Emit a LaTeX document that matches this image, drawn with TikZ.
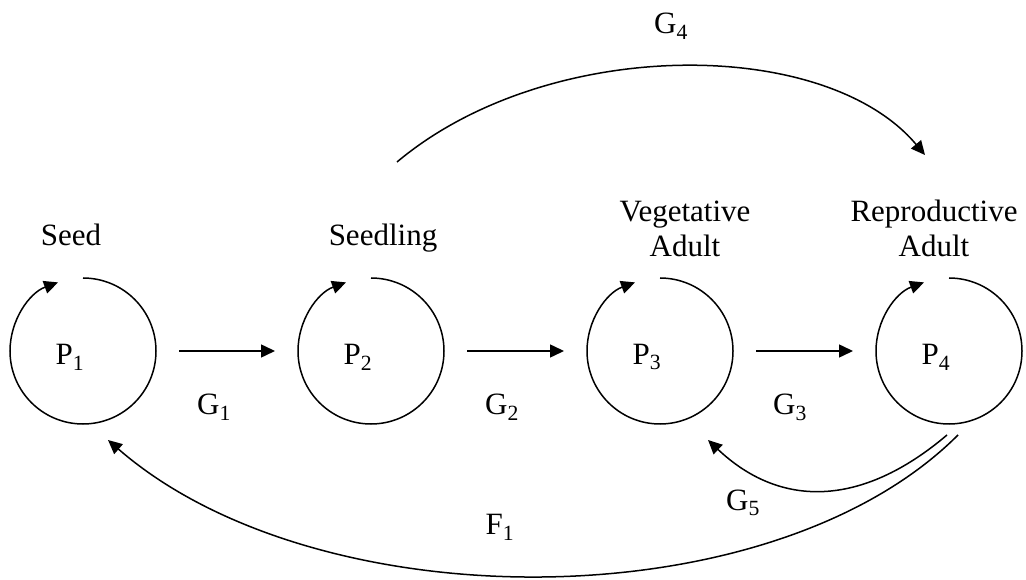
\documentclass[tikz,border=0pt]{standalone}
\usepackage{fontspec}
\setmainfont{Liberation Serif}
\usetikzlibrary{arrows.meta}
\tikzstyle{stage} = [
    circle,
    minimum size=146pt,
    inner sep=0pt,
    outer sep=0pt
]
\tikzstyle{arrow} = [line width=1.5pt, -{Triangle[length=14pt, width=13pt]}]
\tikzstyle{gap} = [shorten <=23pt, shorten >=23pt]

\begin{document}
\begin{tikzpicture}[x=1pt, y=1pt, font=\fontsize{31}{35}\selectfont]
\useasboundingbox (0,0) rectangle (1026,579);

% stages
\node (p1) [stage] at (83,228) {};
\node (p2) [stage] at (371,228) {};
\node (p3) [stage] at (660,228) {};
\node (p4) [stage] at (949,228) {};

\node (p1t) at ([shift={(-13,-6)}]p1.center) {P\textsubscript{1}};
\node (p2t) at ([shift={(-13,-6)}]p2.center) {P\textsubscript{2}};
\node (p3t) at ([shift={(-13,-6)}]p3.center) {P\textsubscript{3}};
\node (p4t) at ([shift={(-13,-6)}]p4.center) {P\textsubscript{4}};

\node (seed) [anchor=base] at (71,333) {Seed};
\node (seedling) [anchor=base] at (383,333) {Seedling};
\node (veg) [anchor=base, align=center] at (685,322) {Vegetative\\Adult};
\node (rep) [anchor=base, align=center] at (934,322) {Reproductive\\Adult};

% stay in the same stage
\foreach \p in {p1,p2,p3,p4}
    \draw [arrow] (\p.north) arc (90:-250:73pt);

% growth
\draw [arrow, gap] (p1) -- (p2);
\draw [arrow, gap] (p2) -- (p3);
\draw [arrow, gap] (p3) -- (p4);

\node (g1) at (214,172) {G\textsubscript{1}};
\node (g2) at (502,172) {G\textsubscript{2}};
\node (g3) at (790,172) {G\textsubscript{3}};

\coordinate (g4s) at (397,417);
\coordinate (g4e) at (925,424);
\draw [arrow] (g4s) .. controls (547,543) and (825,543) .. (g4e);
\node (g4) at (671,553) {G\textsubscript{4}};

\coordinate (g5s) at (947,144);
\coordinate (g5e) at (708,139);
\draw [arrow] (g5s) .. controls (861,71) and (780,71) .. (g5e);
\node (g5) at (743,76) {G\textsubscript{5}};

% fecundity
\coordinate (f1s) at (958,144);
\coordinate (f1e) at (108,139);
\draw [arrow] (f1s) .. controls (771,-43) and (317,-43) .. (f1e);
\node (f1) at (500,52) {F\textsubscript{1}};

\end{tikzpicture}
\end{document}
